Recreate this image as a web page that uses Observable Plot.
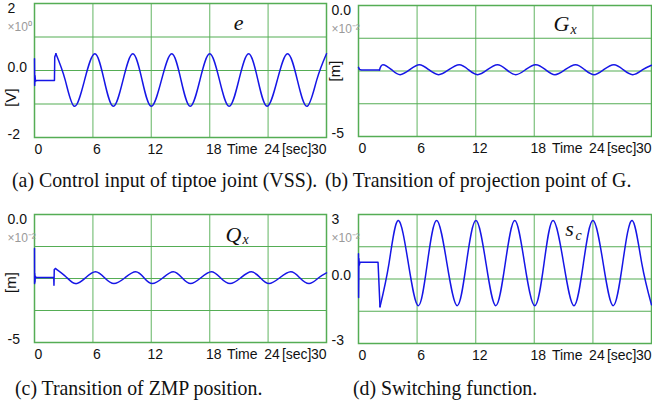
<!DOCTYPE html>
<html><head><meta charset="utf-8">
<script src="https://cdn.jsdelivr.net/npm/d3@7"></script>
<script src="https://cdn.jsdelivr.net/npm/@observablehq/plot@0.6"></script>
<style>
body{margin:0;background:#fff;}
#root{position:relative;width:652px;height:407px;overflow:hidden;background:#fff;}
.panel{position:absolute;}
.cap{position:absolute;font-family:"Liberation Serif","Times New Roman",serif;font-size:22px;line-height:22px;white-space:nowrap;transform:scaleX(0.9);transform-origin:0 0;color:#111;}
</style></head><body><div id="root"></div>
<script>
// ---------- shared axis data ----------
const xTickVals = [0, 6, 12, 18, 24];
const xLastTick = "30";
const xGrid = [6, 12, 18, 24];
const xTitle = "Time";
const xUnit = "[sec]";

// ---------- (a) e : control input ----------
const aYTicks = [2, 0, -2];
const aYLabels = ["2", "0.0", "-2"];
const aGrid = [1, 0, -1];
const aExp = "×10⁰";
const aUnit = "[V]";
const aTransT = [0, 0.02, 0.05, 0.1, 0.2, 2.05, 2.08, 2.2];
const aTransV = [0.35, -0.45, -0.15, -0.32, -0.3, -0.3, 0.4, 0.5];
const aT = [2.2,3.15,4.1,5.15,6.2,7.15,8.1,9.1,10.1,11.05,12.0,13.05,14.1,15.05,16.0,17.0,18.0,19.0,20.0,21.0,22.0,22.95,23.9,24.95,26.0,27.0,28.0,29.0,30.0];
const aV = [0.5,-0.28,-1.07,-0.28,0.5,-0.28,-1.07,-0.28,0.5,-0.28,-1.07,-0.28,0.5,-0.28,-1.07,-0.28,0.5,-0.28,-1.07,-0.28,0.5,-0.28,-1.07,-0.28,0.5,-0.28,-1.07,-0.28,0.5];

// ---------- (b) Gx ----------
const bYTicks = [0, -5];
const bYLabels = ["0.0", "-5"];
const bGrid = [-1.25, -2.5, -3.75];
const bExp = "×10⁻²";
const bUnit = "[m]";
const bTransT = [0, 0.1, 0.3, 2.15];
const bTransV = [-2.36, -2.44, -2.46, -2.46];
const bT = [2.15,2.5,3.38,4.26,5.25,6.23,7.2,8.2,9.25,10.32,11.25,12.19,13.2,14.23,15.15,16.1,17.1,18.15,19.15,20.12,21.15,22.23,23.15,24.1,25.1,26.15,27.1,28.09,29.1,30.0];
const bV = [-2.46,-2.26,-2.45,-2.64,-2.45,-2.26,-2.45,-2.64,-2.45,-2.26,-2.45,-2.64,-2.45,-2.26,-2.45,-2.64,-2.45,-2.26,-2.45,-2.64,-2.45,-2.26,-2.45,-2.64,-2.45,-2.26,-2.45,-2.64,-2.45,-2.28];

// ---------- (c) Qx ----------
const cYTicks = [0, -5];
const cYLabels = ["0.0", "-5"];
const cGrid = [-1.25, -2.5, -3.75];
const cExp = "×10⁻²";
const cUnit = "[m]";
const cTransT = [0, 0.01, 0.03, 0.05, 0.08, 0.15, 1.98, 2.0, 2.03, 2.16];
const cTransV = [-1.33, -2.70, -2.30, -2.65, -2.40, -2.46, -2.46, -2.76, -2.15, -2.11];
const cT = [2.16,3.2,4.22,5.25,6.27,7.2,8.16,9.3,10.39,11.25,12.1,13.2,14.26,15.15,16.04,17.1,18.17,19.1,20.09,21.2,22.28,23.2,24.1,25.2,26.33,27.25,28.21,29.2,30.0];
const cV = [-2.11,-2.42,-2.70,-2.47,-2.24,-2.47,-2.70,-2.47,-2.24,-2.47,-2.70,-2.47,-2.24,-2.47,-2.70,-2.47,-2.24,-2.47,-2.70,-2.47,-2.24,-2.47,-2.70,-2.47,-2.24,-2.47,-2.70,-2.47,-2.28];

// ---------- (d) sc ----------
const dYTicks = [3, 0, -3];
const dYLabels = ["3", "0.0", "-3"];
const dGrid = [1.5, 0, -1.5];
const dExp = "×10⁻²";
const dTransT = [0, 0.01, 0.04, 0.08, 0.15, 2.0, 2.2];
const dTransV = [1.17, -0.86, 0.95, 0.65, 0.78, 0.78, -1.29];
const dT = [2.2,3.12,4.05,5.1,6.13,7.05,8.0,9.05,10.11,11.05,12.02,13.05,14.06,15.03,16.0,17.0,18.05,19.0,19.92,21.0,22.06,23.03,24.0,25.05,26.08,27.05,28.02,29.0,30.0];
const dV = [-1.29,0.72,2.72,0.74,-1.24,0.74,2.72,0.74,-1.24,0.74,2.72,0.74,-1.24,0.74,2.72,0.74,-1.24,0.74,2.72,0.74,-1.24,0.74,2.72,0.74,-1.24,0.74,2.72,0.74,-1.2];

const captions = [
  "(a) Control input of tiptoe joint (VSS).",
  "(b) Transition of projection point of G.",
  "(c) Transition of ZMP position.",
  "(d) Switching function."
];

// ---------- styling ----------
const BLUE = "#1616e6";
const FRAME = "#55ad55";
const HGRID = "#55ad55";
const VGRID = "#86c686";
const SANS = "'Liberation Sans Narrow','Arial Narrow','Liberation Sans',sans-serif";
const SERIF = "'Liberation Serif','Times New Roman',serif";

const pts = (T, V) => T.map((t, i) => ({t, v: V[i]}));

function panel(o) {
  const yLab = o.yTicks.map((v, i) => ({v, label: o.yLabels[i], i}));
  const lbl = {fill: "#111", lineAnchor: "middle"};
  const marks = [
    Plot.gridX(xGrid, {stroke: VGRID, strokeOpacity: 1, strokeWidth: 1.3}),
    Plot.gridY(o.grid, {stroke: HGRID, strokeOpacity: 1, strokeWidth: 1.2}),
    Plot.frame({stroke: FRAME, strokeWidth: 1.5}),
    Plot.line(o.trans, {x: "t", y: "v", stroke: BLUE, strokeWidth: 1.5}),
    Plot.line(o.osc, {x: "t", y: "v", stroke: BLUE, strokeWidth: 1.5, curve: "natural"}),
    // y tick labels
    Plot.text(yLab.filter(d => d.i === 0), {...lbl, y: "v", text: "label", frameAnchor: "left", textAnchor: "start", dx: -27, dy: 5}),
    Plot.text(yLab.filter(d => d.i > 0), {...lbl, y: "v", text: "label", frameAnchor: "left", textAnchor: "start", dx: -27, dy: -3}),
    // exponent
    Plot.text([o.exp], {text: d => d, frameAnchor: "top-left", textAnchor: "start", lineAnchor: "middle", dx: -27, dy: 24, fill: "#9a9a9a", fontSize: 12, fontFamily: "'Liberation Sans',sans-serif"}),
    // x tick labels
    Plot.text(xTickVals, {...lbl, x: d => d, text: d => String(d), frameAnchor: "bottom", textAnchor: "middle", dx: 4, dy: 12.5}),
    Plot.text([xLastTick], {...lbl, text: d => d, frameAnchor: "bottom-right", textAnchor: "end", dx: 0, dy: 12.5}),
    Plot.text([xTitle], {...lbl, text: d => d, frameAnchor: "bottom-right", textAnchor: "end", dx: -69, dy: 12.5}),
    Plot.text([xUnit], {...lbl, text: d => d, frameAnchor: "bottom-right", textAnchor: "end", dx: -15, dy: 12.5}),
    // series name
    Plot.text([o.name], {...lbl, text: d => d, frameAnchor: "top-left", textAnchor: "middle", dx: o.nameDx, dy: o.nameDy, fontFamily: SERIF, fontStyle: "italic", fontSize: 22}),
  ];
  if (o.sub) marks.push(Plot.text([o.sub], {...lbl, text: d => d, frameAnchor: "top-left", textAnchor: "middle", dx: o.subDx, dy: o.subDy, fontFamily: SERIF, fontStyle: "italic", fontSize: 14}));
  if (o.unit) marks.push(Plot.text([o.unit], {...lbl, text: d => d, frameAnchor: "left", textAnchor: "middle", rotate: -90, dx: -23, dy: o.unitDy, fontSize: 15, fontFamily: "'Liberation Sans',sans-serif"}));
  const chart = Plot.plot({
    width: o.width, height: o.height,
    marginLeft: o.ml, marginRight: o.mr, marginTop: o.mt, marginBottom: o.mb,
    x: {domain: [0, 30], axis: null},
    y: {domain: o.yDomain, axis: null},
    style: {fontFamily: SANS, fontSize: "14px", background: "transparent", overflow: "visible"},
    marks
  });
  const div = document.createElement("div");
  div.className = "panel";
  div.style.left = o.left + "px";
  div.style.top = o.top + "px";
  div.appendChild(chart);
  document.getElementById("root").appendChild(div);
}

panel({left: 0, top: 0, width: 330, height: 160, ml: 34, mr: 4, mt: 3, mb: 23, yDomain: [-2, 2],
  grid: aGrid, yTicks: aYTicks, yLabels: aYLabels, exp: aExp, unit: aUnit, unitDy: 27,
  trans: pts(aTransT, aTransV), osc: pts(aT, aV), name: "e", nameDx: 204, nameDy: 19});

panel({left: 322, top: 0, width: 330, height: 160, ml: 36, mr: 1, mt: 5, mb: 24, yDomain: [-5, 0],
  grid: bGrid, yTicks: bYTicks, yLabels: bYLabels, exp: bExp, unit: bUnit, unitDy: 0,
  trans: pts(bTransT, bTransV), osc: pts(bT, bV), name: "G", nameDx: 203, nameDy: 18, sub: "x", subDx: 215, subDy: 24});

panel({left: 0, top: 200, width: 330, height: 165, ml: 34, mr: 4, mt: 14, mb: 23, yDomain: [-5, 0],
  grid: cGrid, yTicks: cYTicks, yLabels: cYLabels, exp: cExp, unit: cUnit, unitDy: 4,
  trans: pts(cTransT, cTransV), osc: pts(cT, cV), name: "Q", nameDx: 199, nameDy: 20, sub: "x", subDx: 211, subDy: 25});

panel({left: 322, top: 200, width: 330, height: 165, ml: 36, mr: 1, mt: 14, mb: 22, yDomain: [-3, 3],
  grid: dGrid, yTicks: dYTicks, yLabels: dYLabels, exp: dExp,
  trans: pts(dTransT, dTransV), osc: pts(dT, dV), name: "s", nameDx: 211, nameDy: 14, sub: "c", subDx: 220, subDy: 21});

const capPos = [[12, 168.6], [325, 168.6], [15, 376.6], [353, 376.6]];
captions.forEach((c, i) => {
  const d = document.createElement("div");
  d.className = "cap";
  d.textContent = c;
  d.style.left = capPos[i][0] + "px";
  d.style.top = capPos[i][1] + "px";
  document.getElementById("root").appendChild(d);
});
</script></body></html>
